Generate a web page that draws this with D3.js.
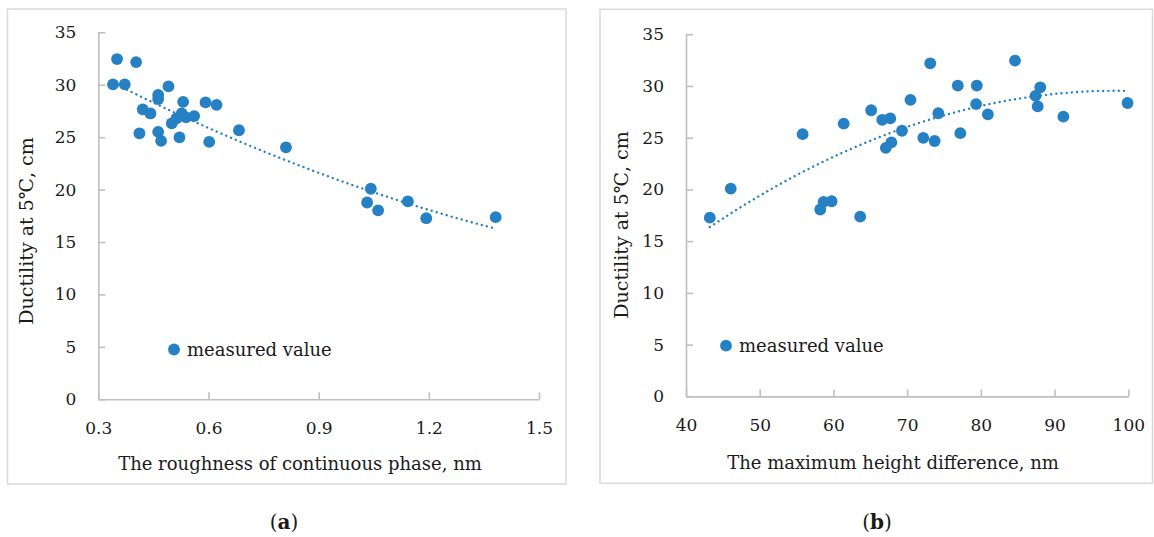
<!DOCTYPE html>
<html>
<head>
<meta charset="utf-8">
<script src="https://cdn.jsdelivr.net/npm/d3@7"></script>
<style>
  html, body { margin: 0; padding: 0; background: #fff; }
  svg { display: block; }
  text { font-family: "DejaVu Serif", "Liberation Serif", serif; fill: #1a1a1a; }
</style>
</head>
<body>
<svg id="chart" width="1154" height="537"></svg>
<script>
// ---- Data ----
const roughness = [0.351, 0.403, 0.340, 0.372, 0.491, 0.463, 0.463, 0.531, 0.592, 0.622,
                   0.421, 0.442, 0.500, 0.513, 0.527, 0.539, 0.561, 0.412, 0.463, 0.471,
                   0.521, 0.602, 0.683, 0.811, 1.042, 1.032, 1.062, 1.143, 1.193, 1.382];
const ductilityA = [32.45, 32.16, 30.04, 30.04, 29.84, 29.02, 28.63, 28.37, 28.31, 28.08,
                    27.65, 27.26, 26.32, 26.80, 27.27, 26.89, 27.01, 25.37, 25.50, 24.65,
                    24.98, 24.55, 25.66, 24.03, 20.08, 18.77, 18.02, 18.87, 17.27, 17.37];
const heightDiff = [43.23, 46.07, 55.82, 58.21, 58.66, 59.75, 61.39, 63.63, 65.12, 66.62,
                    67.71, 67.11, 67.86, 69.30, 70.45, 72.19, 73.13, 73.73, 74.23, 76.87,
                    77.21, 79.45, 79.35, 80.95, 84.63, 87.41, 88.06, 87.71, 91.19, 99.90];
const ductilityB = [17.27, 20.08, 25.34, 18.06, 18.79, 18.86, 26.36, 17.37, 27.65, 26.73,
                    26.86, 24.02, 24.55, 25.67, 28.65, 24.98, 32.19, 24.68, 27.36, 30.04,
                    25.44, 30.04, 28.25, 27.26, 32.45, 29.04, 29.87, 28.02, 27.03, 28.35];
const yTicks = [0, 5, 10, 15, 20, 25, 30, 35];
const xTicksA = [0.3, 0.6, 0.9, 1.2, 1.5];
const xTicksB = [40, 50, 60, 70, 80, 90, 100];
const xTitleA = "The roughness of continuous phase, nm";
const xTitleB = "The maximum height difference, nm";
const yTitle = "Ductility at 5\u2103, cm";
const legendLabel = "measured value";

const BLUE = "#2581c4";
const AXIS = "#bfbfbf";

// quadratic least-squares fit (as an Excel polynomial trendline, order 2)
function quadFit(xs, ys) {
  const n = xs.length;
  let s = [0,0,0,0,0], t = [0,0,0];
  for (let i = 0; i < n; i++) {
    const x = xs[i], y = ys[i];
    let p = 1;
    for (let k = 0; k < 5; k++) { s[k] += p; if (k < 3) t[k] += p * y; p *= x; }
  }
  const M = [[s[0], s[1], s[2], t[0]], [s[1], s[2], s[3], t[1]], [s[2], s[3], s[4], t[2]]];
  for (let c = 0; c < 3; c++) {
    for (let r = c + 1; r < 3; r++) {
      const f = M[r][c] / M[c][c];
      for (let k = c; k < 4; k++) M[r][k] -= f * M[c][k];
    }
  }
  const b = [0,0,0];
  for (let r = 2; r >= 0; r--) {
    let v = M[r][3];
    for (let k = r + 1; k < 3; k++) v -= M[r][k] * b[k];
    b[r] = v / M[r][r];
  }
  return x => b[0] + b[1] * x + b[2] * x * x;
}

const svg = d3.select("#chart");

function panel(cfg) {
  const g = svg.append("g");
  g.append("rect")
    .attr("x", cfg.box[0]).attr("y", cfg.box[1])
    .attr("width", cfg.box[2]).attr("height", cfg.box[3])
    .attr("fill", "none").attr("stroke", "#d9d9d9").attr("stroke-width", 1.5);

  const x = d3.scaleLinear().domain(cfg.xDomain).range([cfg.left, cfg.right]);
  const y = d3.scaleLinear().domain([0, 35]).range([cfg.bottom, cfg.top]);

  const xAxis = d3.axisBottom(x).tickValues(cfg.xTicks).tickSizeInner(-7).tickSizeOuter(0)
    .tickPadding(23).tickFormat(cfg.xFormat);
  const yAxis = d3.axisLeft(y).tickValues(yTicks).tickSizeInner(-7).tickSizeOuter(0)
    .tickPadding(22).tickFormat(d3.format("d"));

  const gx = g.append("g").attr("transform", `translate(0,${cfg.bottom})`).call(xAxis);
  const gy = g.append("g").attr("transform", `translate(${cfg.left},0)`).call(yAxis);
  [gx, gy].forEach(a => {
    a.select(".domain").attr("stroke", AXIS).attr("stroke-width", 1.6);
    a.selectAll(".tick line").attr("stroke", AXIS).attr("stroke-width", 1.6);
    a.selectAll(".tick text").attr("font-size", 17).attr("font-family", "DejaVu Serif").attr("fill", "#1a1a1a");
  });

  // trendline
  const f = quadFit(cfg.xs, cfg.ys);
  const [xmin, xmax] = d3.extent(cfg.xs);
  const samples = d3.range(0, 101).map(i => xmin + (xmax - xmin) * i / 100);
  g.append("path")
    .datum(samples)
    .attr("d", d3.line().x(d => x(d)).y(d => y(f(d))))
    .attr("fill", "none").attr("stroke", BLUE).attr("stroke-width", 2.4)
    .attr("stroke-linecap", "round").attr("stroke-dasharray", "0.01 5.2");

  // points
  g.append("g").selectAll("circle")
    .data(cfg.xs.map((v, i) => [v, cfg.ys[i]]))
    .join("circle")
    .attr("cx", d => x(d[0])).attr("cy", d => y(d[1]))
    .attr("r", 5.9).attr("fill", BLUE);

  // legend
  g.append("circle").attr("cx", cfg.legend[0]).attr("cy", cfg.legend[1]).attr("r", 5.9).attr("fill", BLUE);
  g.append("text").attr("x", cfg.legend[0] + 13).attr("y", cfg.legend[1] + 6.5)
    .attr("font-size", 18).text(legendLabel);

  // axis titles
  g.append("text").attr("x", cfg.xTitlePos[0]).attr("y", cfg.xTitlePos[1])
    .attr("text-anchor", "middle").attr("font-size", 18).text(cfg.xTitle);
  g.append("text")
    .attr("transform", `translate(${cfg.yTitlePos[0]},${cfg.yTitlePos[1]}) rotate(-90)`)
    .attr("text-anchor", "middle").attr("font-size", 19).text(yTitle);

  // caption
  const cap = g.append("text").attr("x", cfg.caption[0]).attr("y", cfg.caption[1])
    .attr("text-anchor", "middle").attr("font-size", 20);
  cap.append("tspan").text("(");
  cap.append("tspan").attr("font-weight", "bold").text(cfg.captionLetter);
  cap.append("tspan").text(")");
}

panel({
  box: [7.5, 9, 558.5, 475],
  left: 98.3, right: 539, top: 32.3, bottom: 399.3,
  xDomain: [0.3, 1.5], xTicks: xTicksA, xFormat: d3.format(".1f"),
  xs: roughness, ys: ductilityA,
  legend: [174, 349.5],
  xTitle: xTitleA, xTitlePos: [300, 470],
  yTitlePos: [33, 231],
  caption: [284, 529], captionLetter: "a"
});

panel({
  box: [600, 9.3, 552.5, 474],
  left: 686, right: 1128.3, top: 34.2, bottom: 396.4,
  xDomain: [40, 100], xTicks: xTicksB, xFormat: d3.format("d"),
  xs: heightDiff, ys: ductilityB,
  legend: [726, 345.7],
  xTitle: xTitleB, xTitlePos: [893, 469],
  yTitlePos: [628, 225],
  caption: [877, 529], captionLetter: "b"
});
</script>
</body>
</html>
